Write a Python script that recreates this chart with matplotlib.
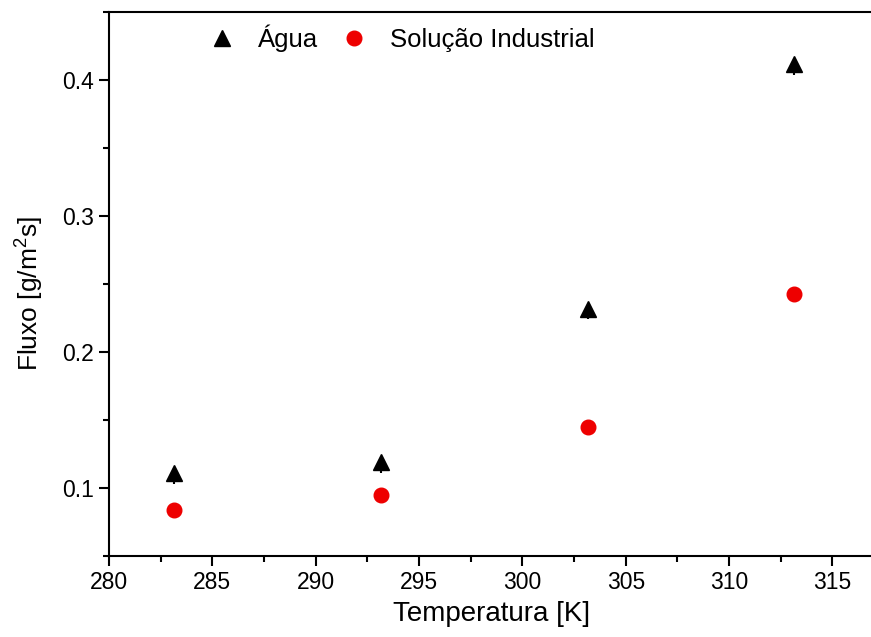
import matplotlib
matplotlib.use("Agg")
import matplotlib.pyplot as plt
from matplotlib.ticker import MultipleLocator
from matplotlib.lines import Line2D

plt.rcParams['font.family'] = ['Liberation Sans', 'DejaVu Sans']
plt.rcParams['mathtext.default'] = 'regular'

temperatura = [283.15, 293.15, 303.15, 313.15]
fluxo_agua = [0.111, 0.119, 0.232, 0.412]
erro_agua_inferior = [0.008, 0.008, 0.008, 0.008]
erro_agua_superior = [0.0, 0.0, 0.0, 0.0]
fluxo_solucao = [0.084, 0.095, 0.145, 0.243]

fig = plt.figure(figsize=(8.71, 6.37), dpi=100)
ax = fig.add_axes([0.1252, 0.127, 0.878, 0.854])

ax.errorbar(temperatura, fluxo_agua,
            yerr=[erro_agua_inferior, erro_agua_superior],
            fmt='^', color='black', markersize=12, elinewidth=1.5,
            capsize=0, zorder=3)
ax.plot(temperatura, fluxo_solucao, 'o', color='#ee0000', markersize=10.5,
        zorder=3)

ax.set_xlim(280, 317)
ax.set_ylim(0.05, 0.45)
ax.xaxis.set_major_locator(MultipleLocator(5))
ax.xaxis.set_minor_locator(MultipleLocator(2.5))
ax.yaxis.set_major_locator(MultipleLocator(0.1))
ax.yaxis.set_minor_locator(MultipleLocator(0.05))
ax.yaxis.set_major_formatter(plt.FuncFormatter(lambda v, p: f"{v:.1f}"))

for side in ['left', 'bottom', 'top']:
    ax.spines[side].set_linewidth(1.5)
ax.spines['right'].set_visible(False)

ax.tick_params(which='major', direction='out', length=7.5, width=1.5,
               labelsize=16.5, top=False, right=False)
ax.tick_params(which='minor', direction='out', length=4, width=1.5,
               top=False, right=False)

ax.set_xlabel('Temperatura [K]', fontsize=20, labelpad=5)
ax.set_ylabel('Fluxo [g/m$^2$s]', fontsize=19)
ax.yaxis.set_label_coords(-0.083, 0.483)

handles = [
    Line2D([], [], marker='^', linestyle='none', color='black', markersize=12),
    Line2D([], [], marker='o', linestyle='none', color='#ee0000', markersize=10.5),
]
ax.legend(handles, ['Água', 'Solução Industrial'], loc='upper left',
          bbox_to_anchor=(0.131, 0.977), ncol=2, frameon=False,
          fontsize=18.5, handlelength=1.0, handletextpad=0.9,
          columnspacing=0.9, borderpad=0, borderaxespad=0)

fig.savefig('out.png', dpi=100)
